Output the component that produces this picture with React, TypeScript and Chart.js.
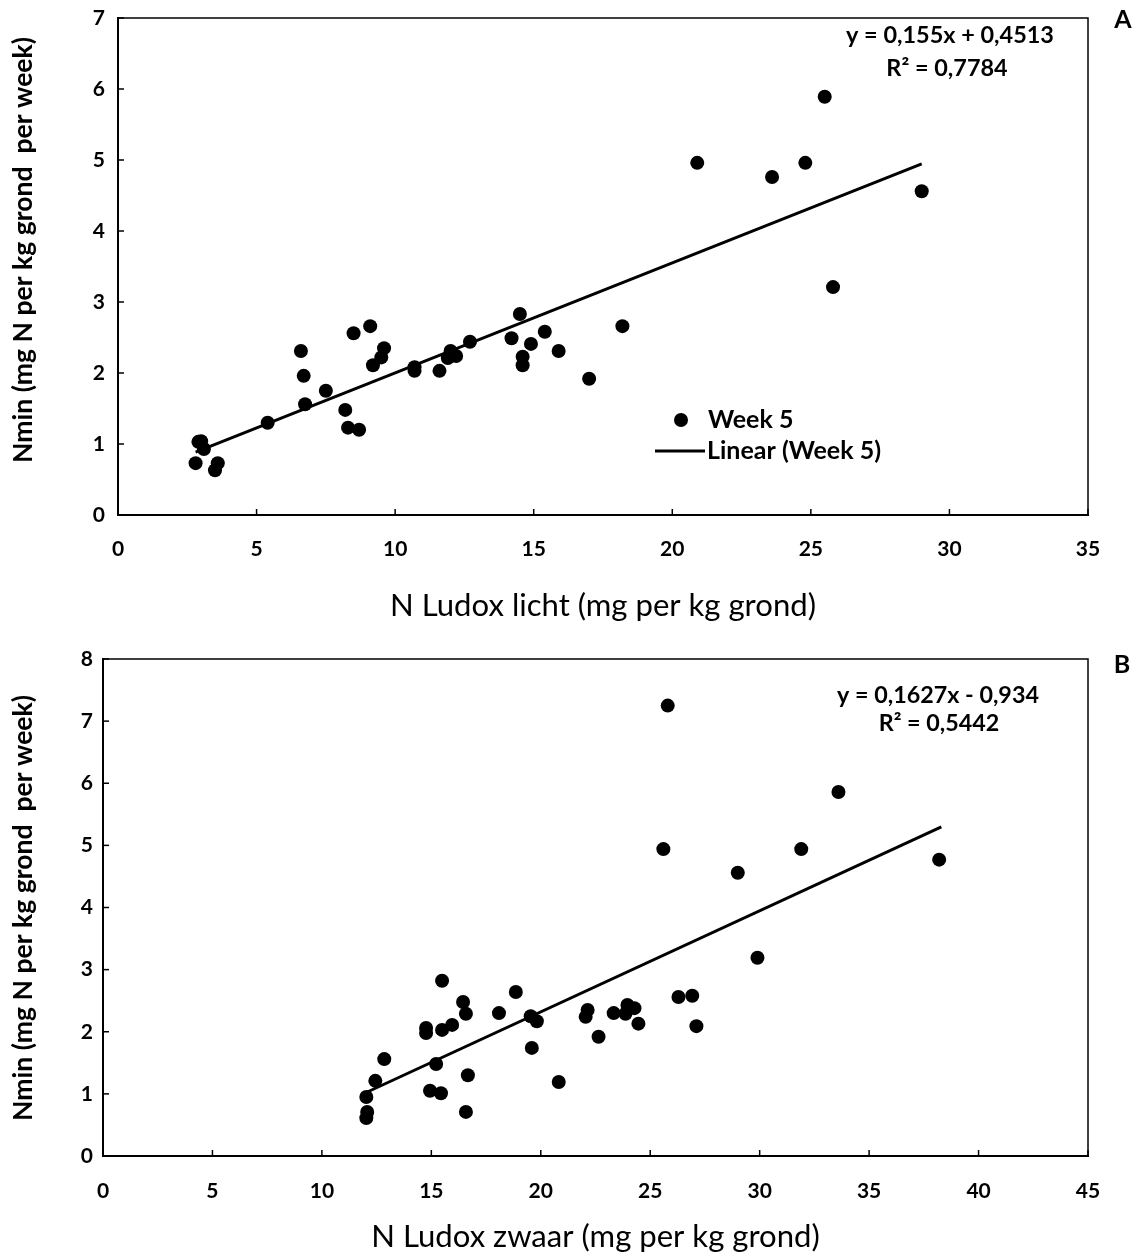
import React, { useEffect, useRef } from "react";
import { Chart, registerables } from "chart.js";

Chart.register(...registerables);

// ---------- Panel A data (N Ludox licht) ----------
const ludoxLicht = [
  2.8, 2.9, 3.0, 3.1, 3.5, 3.6, 5.4, 6.6, 6.7, 6.75, 7.5, 8.2, 8.3, 8.5, 8.7, 9.1, 9.2, 9.5, 9.6,
  10.7, 10.7, 11.6, 11.9, 12.0, 12.2, 12.7, 14.2, 14.5, 14.6, 14.6, 14.9, 15.4, 15.9, 17.0, 18.2,
  20.9, 23.6, 24.8, 25.5, 25.8, 29.0,
];
const nminA = [
  0.73, 1.03, 1.04, 0.93, 0.63, 0.73, 1.3, 2.31, 1.96, 1.56, 1.75, 1.48, 1.23, 2.56, 1.2, 2.66, 2.11, 2.22, 2.35,
  2.08, 2.03, 2.03, 2.21, 2.31, 2.24, 2.44, 2.49, 2.83, 2.23, 2.11, 2.41, 2.58, 2.31, 1.92, 2.66,
  4.96, 4.76, 4.96, 5.89, 3.21, 4.56,
];
const trendAX = [2.8, 29.0];
const trendAY = [0.885, 4.946];
const xTicksA = [0, 5, 10, 15, 20, 25, 30, 35];
const yTicksA = [0, 1, 2, 3, 4, 5, 6, 7];
const equationA = ["y = 0,155x + 0,4513", "R² = 0,7784"];

// ---------- Panel B data (N Ludox zwaar) ----------
const ludoxZwaar = [
  12.03, 12.07, 12.03, 12.44, 12.85, 14.76, 14.76, 15.49, 15.22, 14.94, 15.44, 15.49, 15.95, 16.45, 16.58,
  16.67, 16.58, 18.09, 18.86, 19.54, 19.82, 19.59, 20.82, 22.14, 22.05, 22.64, 23.33, 23.96, 24.28, 23.87,
  24.46, 26.29, 26.92, 27.11, 25.6, 25.8, 29.0, 29.9, 31.9, 33.6, 38.2,
];
const nminB = [
  0.95, 0.71, 0.61, 1.21, 1.56, 1.98, 2.06, 2.82, 1.48, 1.05, 1.01, 2.03, 2.11, 2.48, 2.29,
  1.3, 0.71, 2.3, 2.64, 2.25, 2.17, 1.74, 1.19, 2.35, 2.24, 1.92, 2.3, 2.43, 2.38, 2.29,
  2.13, 2.56, 2.58, 2.09, 4.94, 7.25, 4.56, 3.19, 4.94, 5.86, 4.77,
];
const trendBX = [12.0, 38.3];
const trendBY = [1.018, 5.297];
const xTicksB = [0, 5, 10, 15, 20, 25, 30, 35, 40, 45];
const yTicksB = [0, 1, 2, 3, 4, 5, 6, 7, 8];
const equationB = ["y = 0,1627x - 0,934", "R² = 0,5442"];

const seriesLabel = "Week 5";
const trendLabel = "Linear (Week 5)";
const yTitle = "Nmin (mg N per kg grond  per week)";
const xTitleA = "N Ludox licht (mg per kg grond)";
const xTitleB = "N Ludox zwaar (mg per kg grond)";

const FONT = "Lato, 'Open Sans', sans-serif";

// font size so that `text` spans `target` pixels
function fitSize(text: string, weight: string, target: number): number {
  const c = document.createElement("canvas");
  const ctx = c.getContext("2d")!;
  ctx.font = `${weight} 100px ${FONT}`;
  const w = ctx.measureText(text).width || 1;
  return (100 * target) / w;
}

const decorPlugin = {
  id: "decor",
  afterDraw(chart: any, _args: any, opts: any) {
    const { ctx, chartArea: a, scales } = chart;
    ctx.save();
    ctx.strokeStyle = "#000";
    ctx.lineWidth = 1.5;
    ctx.strokeRect(a.left, a.top, a.right - a.left, a.bottom - a.top);
    scales.x.ticks.forEach((t: any) => {
      const px = scales.x.getPixelForValue(t.value);
      ctx.beginPath();
      ctx.moveTo(px, a.bottom);
      ctx.lineTo(px, a.bottom - 6);
      ctx.stroke();
    });
    scales.y.ticks.forEach((t: any) => {
      const py = scales.y.getPixelForValue(t.value);
      ctx.beginPath();
      ctx.moveTo(a.left, py);
      ctx.lineTo(a.left + 6, py);
      ctx.stroke();
    });
    ctx.fillStyle = "#000";
    ctx.textBaseline = "middle";
    ctx.textAlign = "center";
    // y axis title
    ctx.save();
    ctx.translate(opts.yTitlePos[0], opts.yTitlePos[1]);
    ctx.rotate(-Math.PI / 2);
    ctx.font = `bold ${opts.yTitleSize}px ${FONT}`;
    ctx.fillText(yTitle, 0, 0);
    ctx.restore();
    // equation
    ctx.font = `bold ${opts.eqSize}px ${FONT}`;
    opts.equation.forEach((s: string, i: number) => {
      ctx.fillText(s, opts.eqPos[i][0], opts.eqPos[i][1]);
    });
    // panel letter
    ctx.font = `bold 25px ${FONT}`;
    ctx.fillText(opts.letter, opts.letterPos[0], opts.letterPos[1]);
    // legend
    if (opts.legend) {
      const [lx, ly] = opts.legend;
      ctx.beginPath();
      ctx.arc(lx + 26, ly, 7, 0, Math.PI * 2);
      ctx.fill();
      ctx.lineWidth = 3;
      ctx.beginPath();
      ctx.moveTo(lx, ly + 31);
      ctx.lineTo(lx + 50, ly + 31);
      ctx.stroke();
      ctx.font = `bold ${opts.legendSize}px ${FONT}`;
      ctx.textAlign = "left";
      ctx.fillText(seriesLabel, lx + 53, ly);
      ctx.fillText(trendLabel, lx + 52, ly + 31);
    }
    ctx.restore();
  },
};

type PanelProps = {
  xs: number[];
  ys: number[];
  tx: number[];
  ty: number[];
  xTicks: number[];
  yTicks: number[];
  xTitle: string;
  equation: string[];
  eqPos: number[][];
  eqWidth: number;
  letter: string;
  letterPos: number[];
  legend?: number[];
  yTitlePos: number[];
  height: number;
  area: { left: number; top: number; right: number; bottom: number };
  xTitleY: number;
  xTickPad: number;
  yTickPad: number;
};

function Panel(p: PanelProps) {
  const ref = useRef<HTMLCanvasElement | null>(null);
  useEffect(() => {
    if (!ref.current) return;
    const W = 1141;
    const H = p.height;
    const xTitleFont = fitSize(xTitleA, "normal", 426);
    const yTitleSize = fitSize(yTitle, "bold", 426);
    const eqSize = fitSize(p.equation[0], "bold", p.eqWidth);
    const legendSize = fitSize(trendLabel, "bold", 174);
    const chart = new Chart(ref.current, {
      type: "scatter",
      data: {
        datasets: [
          {
            label: seriesLabel,
            data: p.xs.map((x, i) => ({ x, y: p.ys[i] })),
            pointRadius: 7,
            pointBackgroundColor: "#000",
            pointBorderColor: "#000",
            pointBorderWidth: 0,
            showLine: false,
          },
          {
            label: trendLabel,
            data: p.tx.map((x, i) => ({ x, y: p.ty[i] })),
            showLine: true,
            pointRadius: 0,
            borderColor: "#000",
            borderWidth: 3,
          },
        ],
      },
      options: {
        animation: false,
        responsive: false,
        devicePixelRatio: 1,
        layout: { padding: { left: 0, top: p.area.top, right: W - p.area.right, bottom: 0 } },
        plugins: {
          legend: { display: false },
          tooltip: { enabled: false },
          decor: {
            equation: p.equation,
            eqPos: p.eqPos,
            eqSize,
            letter: p.letter,
            letterPos: p.letterPos,
            legend: p.legend,
            legendSize,
            yTitlePos: p.yTitlePos,
            yTitleSize,
          },
        } as any,
        scales: {
          x: {
            type: "linear",
            min: p.xTicks[0],
            max: p.xTicks[p.xTicks.length - 1],
            afterBuildTicks: (s: any) => {
              s.ticks = p.xTicks.map((v) => ({ value: v }));
            },
            afterFit: (s: any) => {
              s.height = H - p.area.bottom;
              s.paddingLeft = 0;
              s.paddingRight = 0;
            },
            grid: { display: false, drawTicks: false },
            border: { display: true, color: "#000", width: 2 },
            ticks: {
              color: "#000",
              padding: p.xTickPad,
              font: { family: FONT, size: 21, weight: "bold" },
            },
            title: {
              display: true,
              text: p.xTitle,
              color: "#000",
              font: { family: FONT, size: xTitleFont },
              padding: { top: 0, bottom: H - p.xTitleY - (xTitleFont * 1.2) / 2 },
            },
          },
          y: {
            type: "linear",
            min: p.yTicks[0],
            max: p.yTicks[p.yTicks.length - 1],
            afterBuildTicks: (s: any) => {
              s.ticks = p.yTicks.map((v) => ({ value: v }));
            },
            afterFit: (s: any) => {
              s.width = p.area.left;
              s.paddingTop = 0;
              s.paddingBottom = 0;
            },
            grid: { display: false, drawTicks: false },
            border: { display: true, color: "#000", width: 2 },
            ticks: {
              color: "#000",
              padding: p.yTickPad,
              font: { family: FONT, size: 21, weight: "bold" },
            },
            title: { display: false },
          },
        },
      },
      plugins: [decorPlugin],
    });
    return () => chart.destroy();
  }, []);
  return <canvas ref={ref} width={1141} height={p.height} style={{ display: "block" }} />;
}

export default function App() {
  return (
    <div style={{ position: "absolute", left: 0, top: 0, width: 1141, height: 1255, background: "#fff" }}>
      <Panel
        xs={ludoxLicht}
        ys={nminA}
        tx={trendAX}
        ty={trendAY}
        xTicks={xTicksA}
        yTicks={yTicksA}
        xTitle={xTitleA}
        equation={equationA}
        eqPos={[
          [950, 35],
          [947, 68],
        ]}
        eqWidth={208}
        letter="A"
        letterPos={[1123, 20]}
        legend={[655, 420]}
        yTitlePos={[23, 250]}
        height={630}
        area={{ left: 118, top: 18, right: 1088, bottom: 515 }}
        xTitleY={606}
        xTickPad={22}
        yTickPad={13}
      />
      <Panel
        xs={ludoxZwaar}
        ys={nminB}
        tx={trendBX}
        ty={trendBY}
        xTicks={xTicksB}
        yTicks={yTicksB}
        xTitle={xTitleB}
        equation={equationB}
        eqPos={[
          [938, 65],
          [939, 93],
        ]}
        eqWidth={202}
        letter="B"
        letterPos={[1122, 35]}
        yTitlePos={[23, 278]}
        height={625}
        area={{ left: 103, top: 29, right: 1088, bottom: 526 }}
        xTitleY={607}
        xTickPad={23}
        yTickPad={10}
      />
    </div>
  );
}
